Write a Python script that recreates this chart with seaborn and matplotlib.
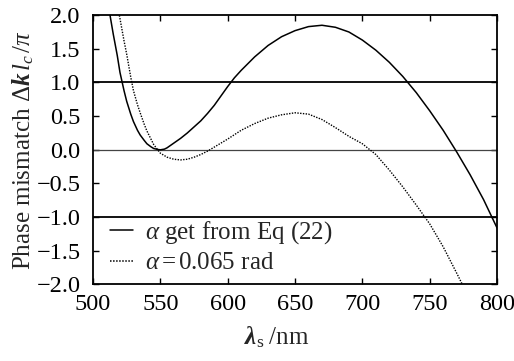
import matplotlib
matplotlib.use("Agg")
import matplotlib.pyplot as plt
import seaborn as sns
import pandas as pd

# Phase mismatch vs signal wavelength, alpha from Eq (22)
wl_eq = [508, 512, 515, 518, 520, 523, 525, 528, 530, 533, 535, 538, 540, 543,
         545, 548, 550, 553, 555, 560, 565, 570, 575, 580, 585, 590, 595, 600,
         605, 610, 620, 630, 640, 650, 660, 670, 680, 690, 700, 710, 720, 730,
         740, 750, 760, 770, 780, 790, 800]
dk_eq = [2.50, 2.07, 1.72, 1.40, 1.15, 0.88, 0.72, 0.53, 0.42, 0.29, 0.22, 0.14,
         0.09, 0.045, 0.02, 0.005, 0.00, 0.01, 0.03, 0.10, 0.17, 0.25, 0.34, 0.43,
         0.54, 0.66, 0.80, 0.94, 1.07, 1.18, 1.38, 1.55, 1.68, 1.77, 1.83, 1.85,
         1.82, 1.75, 1.63, 1.48, 1.30, 1.09, 0.85, 0.58, 0.29, -0.03, -0.37, -0.74,
         -1.16]

# Phase mismatch vs signal wavelength, fixed alpha = 0.065 rad
wl_fix = [514, 518, 520, 523, 525, 528, 530, 533, 535, 538, 540, 543, 545, 548,
          550, 555, 560, 565, 570, 575, 580, 585, 590, 600, 610, 620, 630, 640,
          650, 660, 670, 680, 690, 700, 710, 720, 730, 740, 750, 760, 770, 775, 780]
dk_fix = [2.60, 2.15, 1.95, 1.62, 1.42, 1.08, 0.88, 0.67, 0.55, 0.38, 0.28, 0.16,
          0.08, 0.00, -0.05, -0.11, -0.14, -0.15, -0.14, -0.11, -0.07, -0.02, 0.04,
          0.16, 0.29, 0.39, 0.47, 0.52, 0.55, 0.53, 0.45, 0.33, 0.20, 0.09, -0.07,
          -0.30, -0.55, -0.82, -1.10, -1.44, -1.83, -2.03, -2.25]

x_ticks = [500, 550, 600, 650, 700, 750, 800]
y_ticks = [-2.0, -1.5, -1.0, -0.5, 0.0, 0.5, 1.0, 1.5, 2.0]
labels = [r"$\it{\alpha}$ get from Eq (22)", r"$\it{\alpha}$$\,$=$\,$0.065 rad"]

sns.set_theme(style="ticks")
plt.rcParams["font.family"] = ["Liberation Serif", "DejaVu Serif"]
plt.rcParams["mathtext.fontset"] = "custom"
plt.rcParams["mathtext.rm"] = "Liberation Serif"
plt.rcParams["mathtext.it"] = "Liberation Serif:italic"
plt.rcParams["mathtext.bf"] = "Liberation Serif:bold"
plt.rcParams["mathtext.bfit"] = "Liberation Serif:bold:italic"

df_eq = pd.DataFrame({"wl": wl_eq, "dk": dk_eq})
df_fix = pd.DataFrame({"wl": wl_fix, "dk": dk_fix})

fig = plt.figure(figsize=(5.14, 3.61), dpi=100)
ax = fig.add_axes([0.181, 0.212, 0.786, 0.746])

# reference levels of the phase mismatch
for lvl, lw, col in [(1.0, 1.3, "black"), (-1.0, 1.3, "black"), (0.0, 0.9, "#444444")]:
    ax.axhline(lvl, color=col, lw=lw, zorder=1)

sns.lineplot(data=df_eq, x="wl", y="dk", ax=ax, color="black", lw=1.1,
             sort=False, label=labels[0])
sns.lineplot(data=df_fix, x="wl", y="dk", ax=ax, color="black", lw=1.0,
             linestyle=(0, (1, 1)), sort=False, label=labels[1])

ax.set_xlim(500, 800)
ax.set_ylim(-2.0, 2.0)
ax.set_xticks(x_ticks)
ax.set_yticks(y_ticks)
ax.set_xticklabels([str(v) for v in x_ticks])
ax.set_yticklabels([f"{v:.1f}".replace("-", "\u2212") for v in y_ticks])
ax.tick_params(direction="in", length=4, width=1.0, top=True, right=True,
               labelsize=17.5, colors="black")
ax.tick_params(axis="y", pad=9)
ax.tick_params(axis="x", pad=7)
for s in ax.spines.values():
    s.set_linewidth(1.3)
    s.set_color("black")

ax.set_xlabel(r"$\mathbfit{\lambda}_{\mathrm{s}}\;/\mathrm{nm}$", fontsize=18)
ax.xaxis.set_label_coords(0.455, -0.15)
ax.set_ylabel(r"Phase mismatch $\Delta\mathbfit{k}\,\mathit{l}_{\mathit{c}}\,/\pi$",
              fontsize=18)
ax.yaxis.set_label_coords(-0.14, 0.5)

leg = ax.legend(loc="lower left", bbox_to_anchor=(0.018, 0.0), frameon=False,
                fontsize=18, handlelength=0.9, handletextpad=0.5,
                labelspacing=0.25, borderaxespad=0.0)
for h in leg.get_lines():
    h.set_linewidth(1.1)

fig.savefig("out.png", dpi=100)
